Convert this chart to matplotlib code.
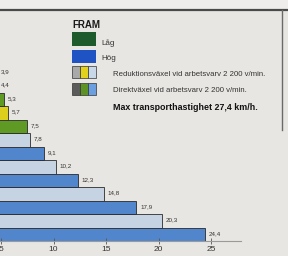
import numpy as np
import matplotlib
matplotlib.use('Agg')
import matplotlib.pyplot as plt
from matplotlib.patches import Rectangle

plt.rcParams['font.family'] = ['Liberation Sans', 'DejaVu Sans']

# hastigheter km/h, nerifrån och upp
hastighet = [24.4, 20.3, 17.9, 14.8, 12.3, 10.2, 9.1, 7.8, 7.5, 5.7, 5.3, 4.4, 3.9]
vaxel = ['D', 'R', 'D', 'R', 'D', 'R', 'D', 'R', 'D', 'R', 'D', 'R', 'D']  # D = direkt, R = reduktion
omrade = ['Hög'] * 8 + ['Låg'] * 5
xticks = [5, 10, 15, 20, 25]

farger = {('Hög', 'D'): '#5286cc', ('Hög', 'R'): '#c5d3e2',
          ('Låg', 'D'): '#5f9a24', ('Låg', 'R'): '#dccf1e'}
bg = '#e8e6e2'

W, H = 288, 256
fig = plt.figure(figsize=(W / 100, H / 100), dpi=100, facecolor=bg)

# stapeldiagrammet
px = 10.5     # pixlar per km/h
x0 = 1        # pixelposition för 5 km/h
ax = fig.add_axes([0, (H - 241) / H, 1, (241 - 64) / H])
ax.set_facecolor('none')
xmin = 5 - x0 / px
ax.set_xlim(xmin, 5 + (W - x0) / px)
ax.set_ylim(-0.5, (241 - 64) / 13.5 - 0.5)

y = np.arange(len(hastighet))
cols = [farger[(o, v)] for o, v in zip(omrade, vaxel)]
ax.barh(y, hastighet, height=1.0, color=cols, edgecolor='#2a2a2a', linewidth=0.6)
for yi, v in zip(y, hastighet):
    # etiketter för de kortaste staplarna hålls inom bilden
    ax.text(max(v + 0.35, xmin + 0.1), yi + 0.05, f'{v:.1f}'.replace('.', ','),
            fontsize=4.5, va='center', ha='left', color='#333333', clip_on=False)

for s in ['top', 'right', 'left']:
    ax.spines[s].set_visible(False)
ax.spines['bottom'].set_bounds(4.9, 27.9)
ax.spines['bottom'].set_color('#9a9a9a')
ax.spines['bottom'].set_linewidth(0.8)
ax.set_yticks([])
ax.set_xticks(xticks)
ax.tick_params(axis='x', direction='inout', length=4, width=0.6, color='#555555',
               labelsize=6, labelcolor='#333333', pad=1.5)

# ram och teckenförklaring
ov = fig.add_axes([0, 0, 1, 1])
ov.set_xlim(0, W)
ov.set_ylim(H, 0)
ov.axis('off')
ov.add_patch(Rectangle((0, 0), W, 9, color='#eeedeb', lw=0))
ov.plot([0, W], [10, 10], color='#4a4a4a', lw=1.6)
ov.plot([282, 282], [10, 130], color='#6a6a6a', lw=1.0)

ov.text(72, 25, 'FRAM', fontsize=7, fontweight='bold', va='center', ha='left', color='#1a1a1a')
ov.add_patch(Rectangle((72, 32), 24, 14, color='#1d5a2c', lw=0))
ov.text(101, 43, 'Låg', fontsize=5.8, va='center', ha='left', color='#333333')
ov.add_patch(Rectangle((72, 50), 24, 13, color='#1f52c2', lw=0))
ov.text(101, 58, 'Hög', fontsize=5.8, va='center', ha='left', color='#333333')

rad_farger = [['#a9a9a9', '#e2d21c', '#c9d8e8'], ['#5c5c5c', '#5c9324', '#6c9fe0']]
rad_text = ['Reduktionsväxel vid arbetsvarv 2 200 v/min.',
            'Direktväxel vid arbetsvarv 2 200 v/min.']
for i, (fc, t) in enumerate(zip(rad_farger, rad_text)):
    ytop = 66 + i * 17
    for j, c in enumerate(fc):
        ov.add_patch(Rectangle((72 + j * 8, ytop), 8, 12, facecolor=c,
                               edgecolor='#333333', lw=0.5))
    ov.text(113, ytop + 8, t, fontsize=5.6, va='center', ha='left', color='#333333')
ov.text(113, 108, 'Max transporthastighet 27,4 km/h.', fontsize=6.4,
        fontweight='bold', va='center', ha='left', color='#111111')

fig.savefig('out.png', dpi=100, facecolor=bg)
